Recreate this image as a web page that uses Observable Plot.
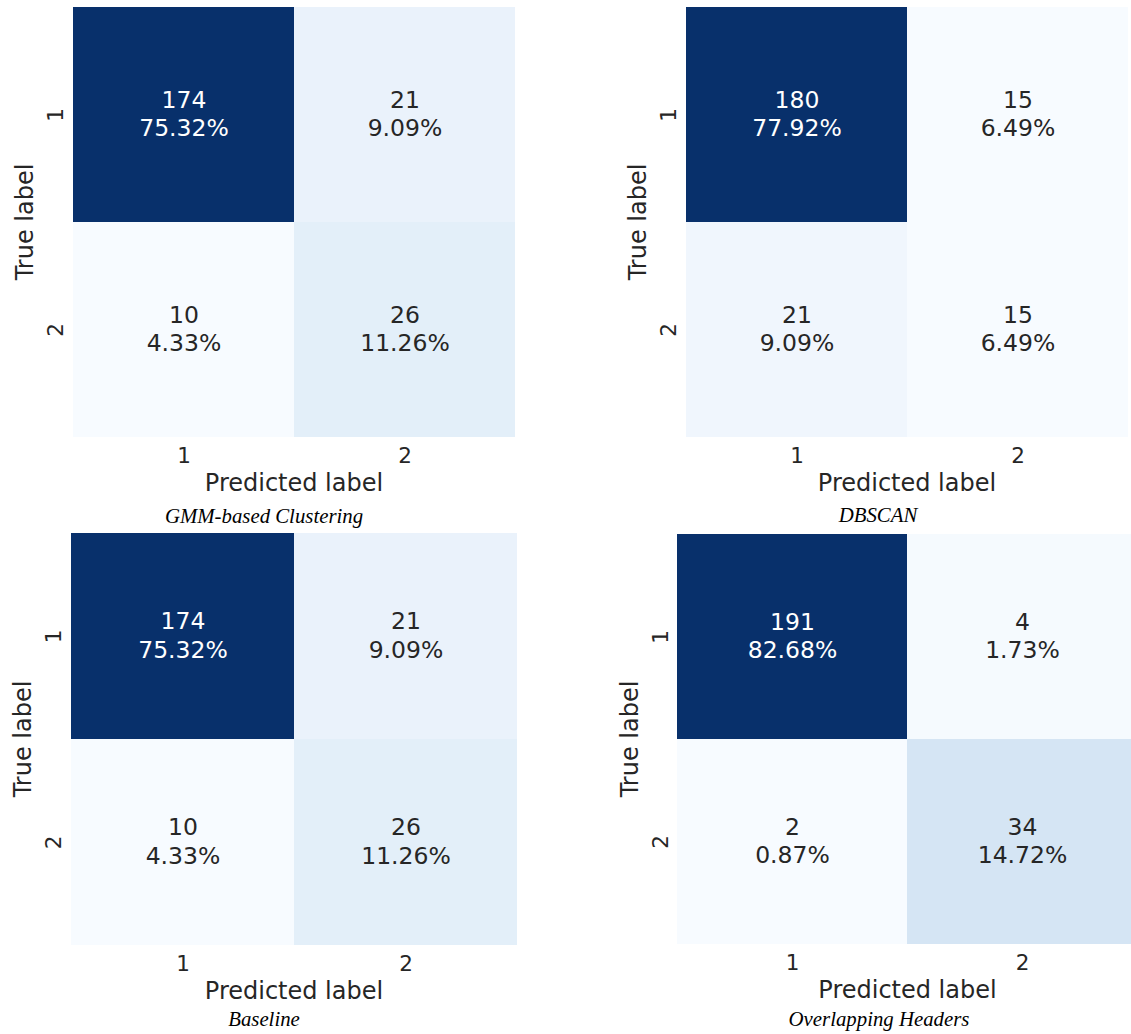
<!DOCTYPE html>
<html>
<head>
<meta charset="utf-8">
<script src="https://cdn.jsdelivr.net/npm/d3@7"></script>
<script src="https://cdn.jsdelivr.net/npm/@observablehq/plot@0.6"></script>
<style>
  html, body { margin: 0; padding: 0; background: #ffffff; overflow: hidden; }
  #page { position: relative; width: 1131px; height: 1034px; overflow: hidden; background: #ffffff; }
  .panel { position: absolute; }
  .caption {
    position: absolute;
    font-family: "Liberation Serif", "Times New Roman", serif;
    font-style: italic;
    font-size: 20.8px;
    line-height: 1;
    color: #000000;
    white-space: nowrap;
    transform: translateX(-50%);
  }
</style>
</head>
<body>
<div id="page"></div>
<script>
// Class labels shared by both axes of every confusion matrix
const classLabels = ["1", "2"];

// Panel titles (shown below each matrix)
const panelTitles = ["GMM-based Clustering", "DBSCAN", "Baseline", "Overlapping Headers"];

// Counts in row-major order: [true 1 / pred 1, true 1 / pred 2, true 2 / pred 1, true 2 / pred 2]
const gmmCounts = [174, 21, 10, 26];
const dbscanCounts = [180, 15, 21, 15];
const baselineCounts = [174, 21, 10, 26];
const overlapCounts = [191, 4, 2, 34];

const axisTitleX = "Predicted label";
const axisTitleY = "True label";

// Matplotlib "Blues" control colours
const bluesStops = ["#f7fbff", "#deebf7", "#c6dbef", "#9ecae1", "#6baed6", "#4292c6", "#2171b5", "#08519c", "#08306b"];

// Frame placement of each matrix on the page (left, top, right, bottom) and caption anchor
const layouts = [
  {frame: [72, 6, 515, 437], caption: [264, 505.5]},
  {frame: [685, 6, 1128, 437], caption: [878, 504.5]},
  {frame: [70, 532, 517, 945], caption: [264, 1008.5]},
  {frame: [677, 533, 1137, 944], caption: [879, 1009]}
];

const allCounts = [gmmCounts, dbscanCounts, baselineCounts, overlapCounts];
const page = document.getElementById("page");
const marginLeft = 66, marginRight = 6, marginBottom = 62;

allCounts.forEach((counts, p) => {
  const total = d3.sum(counts);
  const cells = counts.map((count, i) => ({
    trueLabel: classLabels[Math.floor(i / 2)],
    predLabel: classLabels[i % 2],
    count,
    share: (100 * count / total).toFixed(2) + "%"
  }));
  const [lo, hi] = d3.extent(counts);
  const stopDomain = bluesStops.map((_, k) => lo + (hi - lo) * k / (bluesStops.length - 1));

  const [fl, ft, fr, fb] = layouts[p].frame;
  const marginTop = 6;
  const width = marginLeft + (fr - fl) + marginRight;
  const height = marginTop + (fb - ft) + marginBottom;

  const chart = Plot.plot({
    width,
    height,
    marginLeft,
    marginRight,
    marginTop,
    marginBottom,
    style: {fontFamily: "DejaVu Sans, sans-serif", fontSize: "21.5px", color: "#262626", background: "transparent", overflow: "visible"},
    x: {type: "band", domain: classLabels, padding: 0},
    y: {type: "band", domain: classLabels, padding: 0},
    color: {type: "linear", domain: stopDomain, range: bluesStops, interpolate: "rgb"},
    marks: [
      Plot.cell(cells, {x: "predLabel", y: "trueLabel", fill: "count"}),
      Plot.text(cells, {
        x: "predLabel",
        y: "trueLabel",
        text: (d) => `${d.count}\n${d.share}`,
        fontSize: 23.5,
        lineHeight: 1.2,
        dy: -2,
        fill: (d) => ((d.count - lo) / (hi - lo) > 0.6 ? "#ffffff" : "#262626")
      }),
      Plot.axisX({tickSize: 0, tickPadding: 10.7, label: null}),
      Plot.axisY({tickSize: 0, tickPadding: 10, tickRotate: -90, label: null}),
      Plot.text([axisTitleX], {frameAnchor: "bottom", dy: 53, textAnchor: "middle", lineAnchor: "bottom", fontSize: 24, fill: "#262626"}),
      Plot.text([axisTitleY], {frameAnchor: "left", dx: -40, rotate: -90, textAnchor: "middle", lineAnchor: "bottom", fontSize: 24, fill: "#262626"})
    ]
  });
  chart.classList.add("panel");
  chart.style.left = (fl - marginLeft) + "px";
  chart.style.top = (ft - marginTop) + "px";
  page.appendChild(chart);

  const cap = document.createElement("div");
  cap.className = "caption";
  cap.textContent = panelTitles[p];
  cap.style.left = layouts[p].caption[0] + "px";
  cap.style.top = layouts[p].caption[1] + "px";
  page.appendChild(cap);
});
</script>
</body>
</html>
